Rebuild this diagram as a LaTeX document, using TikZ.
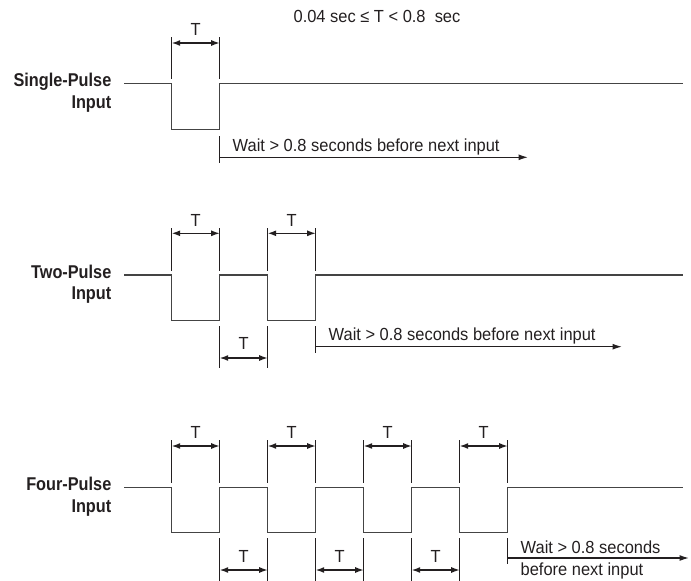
\documentclass[tikz,border=0pt]{standalone}
\usepackage{fontspec}
\setmainfont{Liberation Sans}[FakeStretch=0.94, BoldFeatures={FakeStretch=0.88}]
\usetikzlibrary{arrows.meta,positioning,calc}
\definecolor{ink}{HTML}{231F20}
\definecolor{wavegray}{HTML}{444444}
\tikzset{
  pulseline/.style={
    line width=1.3pt,
    draw=wavegray,
  },
  dimline/.style={
    line width=1.4pt,
    draw=ink,
  },
  dimarrow/.style={
    {Latex[length=8.5pt, width=6pt]}-{Latex[length=8.5pt, width=6pt]},
    line width=1.3pt,
    draw=ink,
  },
  waitarrow/.style={
    -{Latex[length=9.5pt, width=6pt]},
    line width=1.3pt,
    draw=ink,
  },
  tlabel/.style={
    font=\fontsize{17.5}{20}\selectfont,
    text=ink,
    inner sep=0pt,
  },
  waitlabel/.style={
    font=\fontsize{17.5}{20}\selectfont,
    text=ink,
    inner sep=0pt,
    anchor=west,
  },
  rowlabel/.style={
    font=\fontsize{18.5}{21.5}\selectfont\bfseries,
    text=ink,
    align=right,
    anchor=east,
    inner sep=0pt,
  },
}

\begin{document}
\begin{tikzpicture}[x=1pt, y=-1pt]

\useasboundingbox (0,0) rectangle (691,581);

% === Condition on T ===
\node[tlabel] (cond) at (377,16) {0.04 sec ≤ T < 0.8\ \ sec};

% === ROW 1: Single-Pulse ===

\node[rowlabel] (single) at (111.5,92.5) {Single-Pulse\\Input};

\coordinate (s0) at (124,83.5);
\coordinate (s1l) at (171.7,83.5);
\coordinate (s1r) at (219.7,83.5);
\coordinate (send) at (683,83.5);
\draw[pulseline] (s0) -- (s1l) -- ++(0,46) -| (s1r) -- (send);

% pulse width
\draw[dimline] (171.7,37) -- (171.7,79);
\draw[dimline] (219.7,37) -- (219.7,79);
\coordinate (su1l) at (171.7,43);
\coordinate (su1r) at (219.7,43);
\draw[dimarrow] (su1l) -- (su1r);
\node[tlabel] (sT1) at (195.7,29) {T};

% wait
\coordinate (swait) at (528,157.3);
\draw[dimline] (219.7,136) -- (219.7,162.7);
\draw[waitarrow] (219.7,157.3) -- (swait);
\node[waitlabel] (swtext) at (232.5,146.5) {Wait > 0.8 seconds before next input};

% === ROW 2: Two-Pulse ===

\node[rowlabel] (two) at (111.5,284) {Two-Pulse\\Input};

\coordinate (t0) at (124,275);
\coordinate (t1l) at (171.7,275);
\coordinate (t1r) at (219.7,275);
\coordinate (t2l) at (267.7,275);
\coordinate (t2r) at (315.7,275);
\coordinate (tend) at (683,275);
\draw[pulseline] (t0) -- (t1l) -- ++(0,45.5) -| (t1r) -- (t2l)
  -- ++(0,45.5) -| (t2r) -- (tend);

% pulse widths
\foreach \x in {171.7,219.7,267.7,315.7}
  \draw[dimline] (\x,228) -- (\x,270.5);
\coordinate (tu1l) at (171.7,233.3);
\coordinate (tu1r) at (219.7,233.3);
\coordinate (tu2l) at (267.7,233.3);
\coordinate (tu2r) at (315.7,233.3);
\draw[dimarrow] (tu1l) -- (tu1r);
\draw[dimarrow] (tu2l) -- (tu2r);
\node[tlabel] (tT1) at (195.7,220) {T};
\node[tlabel] (tT2) at (291.7,220) {T};

% gap
\draw[dimline] (219.7,326) -- (219.7,368);
\draw[dimline] (267.7,326) -- (267.7,368);
\coordinate (td1l) at (219.7,358);
\coordinate (td1r) at (267.7,358);
\draw[dimarrow] (td1l) -- (td1r);
\node[tlabel] (tG1) at (243.7,343) {T};

% wait
\coordinate (twait) at (622,346.7);
\draw[dimline] (315.7,326) -- (315.7,352.7);
\draw[waitarrow] (315.7,346.7) -- (twait);
\node[waitlabel] (twtext) at (328.5,336) {Wait > 0.8 seconds before next input};

% === ROW 3: Four-Pulse ===

\node[rowlabel] (four) at (111.5,496.5) {Four-Pulse\\Input};

\coordinate (f0) at (124,487.5);
\coordinate (fend) at (683,487.5);
\foreach \k in {1,...,4} {
  \coordinate (f\k l) at ({75.7+96*\k},487.5);
  \coordinate (f\k r) at ({123.7+96*\k},487.5);
}
\draw[pulseline] (f0) -- (f1l) -- ++(0,45) -| (f1r) -- (f2l)
  -- ++(0,45) -| (f2r) -- (f3l)
  -- ++(0,45) -| (f3r) -- (f4l)
  -- ++(0,45) -| (f4r) -- (fend);

% pulse widths
\foreach \k in {1,...,4} {
  \draw[dimline] ($(f\k l)+(0,-47.5)$) -- ($(f\k l)+(0,-5)$);
  \draw[dimline] ($(f\k r)+(0,-47.5)$) -- ($(f\k r)+(0,-5)$);
  \draw[dimarrow] ($(f\k l)+(0,-41.5)$) -- ($(f\k r)+(0,-41.5)$);
  \node[tlabel] (fT\k) at ($(f\k l)!0.5!(f\k r)+(0,-55.5)$) {T};
}

% gaps
\foreach \k/\n in {1/2,2/3,3/4} {
  \draw[dimline] ($(f\k r)+(0,50.5)$) -- ($(f\k r)+(0,94)$);
  \draw[dimline] ($(f\n l)+(0,50.5)$) -- ($(f\n l)+(0,94)$);
  \draw[dimarrow] ($(f\k r)+(0,82.5)$) -- ($(f\n l)+(0,82.5)$);
  \node[tlabel] (fG\k) at ($(f\k r)!0.5!(f\n l)+(0,68.5)$) {T};
}

% wait
\coordinate (fwait) at (689,558);
\draw[dimline] (507.7,538) -- (507.7,564);
\draw[waitarrow] (507.7,558) -- (fwait);
\node[waitlabel] (fwtext1) at (520.5,547.5) {Wait > 0.8 seconds};
\node[waitlabel] (fwtext2) at (520.5,571) {before next input};

\end{tikzpicture}
\end{document}
